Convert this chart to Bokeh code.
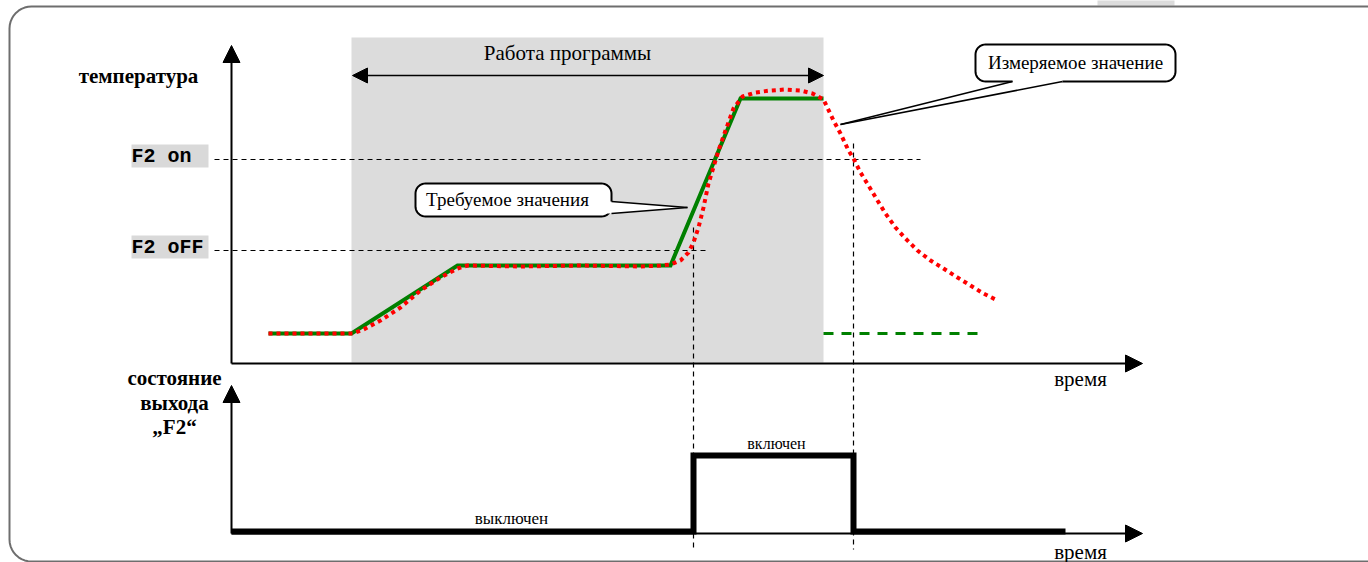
from bokeh.plotting import figure
from bokeh.models import Range1d, Arrow, NormalHead, Label
from bokeh.embed import file_html
from bokeh.resources import INLINE
import math

# ---------------- data (time units / temperature units) ----------------
# setpoint ("Требуемое значения") during the program
t_set = [3.7, 12.0, 22.6, 43.9, 50.9, 59.2]
T_set = [14.5, 14.5, 48.5, 48.5, 132.0, 132.0]
# setpoint after program end (dashed)
t_set_after = [59.2, 75.2]
T_set_after = [14.5, 14.5]
# measured value ("Измеряемое значение")
t_meas = [3.7, 12.1, 13.2, 14.9, 16.9, 18.9, 20.9, 22.6, 23.6, 28.9, 34.9, 40.9,
          42.9, 43.9, 44.9, 45.7, 46.2, 46.7, 47.2, 47.7, 48.1, 48.7, 49.4, 50.2,
          51.1, 52.4, 53.9, 55.4, 56.9, 58.1, 59.2, 60.2, 60.9, 61.7, 62.2, 62.9,
          63.7, 64.6, 65.4, 66.4, 67.4, 68.6, 69.9, 71.2, 72.6, 73.9, 75.2, 76.6]
T_meas = [14.5, 14.5, 16.5, 21.0, 27.5, 36.0, 42.5, 47.0, 48.5, 48.0, 48.5, 48.0,
          48.5, 49.0, 51.0, 55.0, 60.0, 67.5, 77.5, 89.5, 96.0, 106.0, 116.0, 127.0,
          133.0, 135.0, 136.0, 136.5, 136.0, 134.5, 131.5, 121.0, 114.5, 106.0, 102.0, 95.0,
          88.5, 81.0, 74.5, 67.5, 62.0, 56.0, 51.0, 47.0, 42.5, 38.5, 34.5, 31.0]
# thresholds
F2_ON = 101.5
F2_OFF = 56.0
threshold_labels = ["F2 on ", "F2 oFF"]
# program run interval
t_prog = [12.0, 59.2]
T_prog_top = 162.5
# output state F2
t_state = [0.0, 46.2, 46.2, 62.2, 62.2, 83.4]
s_state = [0, 0, 1, 1, 0, 0]
t_switch = [46.2, 62.2]

# ---------------- layout helpers (pixel -> data) ----------------
W, H = 1368, 562

def tx(px):
    return (px - 231) / 10.0

def ty(py):
    return (362 - py) / 2.0

def sy(py):
    return (531 - py) / 76.0

def rrect(x0, y0, x1, y1, r, n=10):
    xs, ys = [], []
    corners = [(x1 - r, y0 + r, -90, 0), (x1 - r, y1 - r, 0, 90),
               (x0 + r, y1 - r, 90, 180), (x0 + r, y0 + r, 180, 270)]
    for cx, cy, a0, a1 in corners:
        for i in range(n + 1):
            a = math.radians(a0 + (a1 - a0) * i / n)
            xs.append(tx(cx + r * math.cos(a)))
            ys.append(ty(cy + r * math.sin(a)))
    return xs, ys

SERIF = "'Liberation Serif', 'Times New Roman', serif"
MONO = "'Liberation Mono', 'Courier New', monospace"

p = figure(width=W, height=H,
           x_range=Range1d(tx(0), tx(W)), y_range=Range1d(ty(H), ty(0)),
           output_backend="svg", toolbar_location=None,
           x_axis_type=None, y_axis_type=None, min_border=0)
p.extra_y_ranges = {"state": Range1d(sy(H), sy(0))}
p.outline_line_color = None
p.background_fill_color = "white"
p.border_fill_color = "white"

# program band
p.quad(left=[t_prog[0]], right=[t_prog[1]], bottom=[0], top=[T_prog_top],
       fill_color="#dcdcdc", line_color=None)

# page fragment at top edge
p.quad(left=[tx(1097)], right=[tx(1174)], bottom=[ty(5)], top=[ty(-2)],
       fill_color="#dcdcdc", line_color=None)

# outer rounded frame
fx, fy = rrect(9, 6, 1392, 561, 22)
p.patch(fx + [fx[0]], fy + [fy[0]], fill_color=None, line_color="#6e6e6e", line_width=2)

# threshold label boxes
p.quad(left=[tx(131), tx(131)], right=[tx(208), tx(208)],
       bottom=[ty(167), ty(258)], top=[ty(144), ty(235)],
       fill_color="#d9d9d9", line_color=None)

# threshold dashed lines
p.line([tx(214), tx(920)], [F2_ON, F2_ON], line_color="black", line_width=1.2, line_dash="5 4")
p.line([tx(214), tx(705)], [F2_OFF, F2_OFF], line_color="black", line_width=1.2, line_dash="5 4")
# switching verticals
p.line([t_switch[0], t_switch[0]], [F2_OFF + 11.5, ty(549)], line_color="black", line_width=1.2, line_dash="5 4")
p.line([t_switch[1], t_switch[1]], [F2_ON + 8, ty(549)], line_color="black", line_width=1.2, line_dash="5 4")

# setpoint
p.line(t_set, T_set, line_color="#008000", line_width=4, line_join="miter")
p.line(t_set_after, T_set_after, line_color="#008000", line_width=3, line_dash="10 8")
# measured
p.line(t_meas, T_meas, line_color="#ff0000", line_width=4, line_dash="4 4")

# output state
p.line(t_state, s_state, y_range_name="state", line_color="black", line_width=6,
       line_join="miter", line_cap="butt")

# callout: Требуемое значения
bx, by = rrect(415, 183, 611, 216, 10)
p.patch(bx, by, fill_color="white", line_color="black", line_width=2)
p.patch([tx(600), tx(612), tx(687), tx(612), tx(600)],
        [ty(201), ty(201), ty(207), ty(213), ty(213)], fill_color="white", line_color=None)
p.multi_line([[tx(611), tx(687)], [tx(611), tx(687)]], [[ty(201), ty(207)], [ty(213), ty(207)]],
             line_color="black", line_width=1.5)

# callout: Измеряемое значение
bx, by = rrect(975, 44, 1175, 81, 10)
p.patch(bx, by, fill_color="white", line_color="black", line_width=2)
p.patch([tx(1012), tx(1012), tx(840), tx(1062), tx(1062)],
        [ty(72), ty(82), ty(124), ty(82), ty(72)], fill_color="white", line_color=None)
p.multi_line([[tx(1012), tx(840)], [tx(1062), tx(840)]], [[ty(81), ty(124)], [ty(81), ty(124)]],
             line_color="black", line_width=1.5)

# axes arrows
def arrow(x0, y0, x1, y1, rng="default", size=17, lw=2, both=False):
    head = NormalHead(size=size, fill_color="black", line_color="black", line_width=1)
    kw = dict(end=head, x_start=x0, y_start=y0, x_end=x1, y_end=y1,
              line_color="black", line_width=lw)
    if both:
        kw["start"] = NormalHead(size=size, fill_color="black", line_color="black", line_width=1)
    else:
        kw["start"] = None
    if rng != "default":
        kw["y_range_name"] = rng
    p.add_layout(Arrow(**kw))

arrow(0, ty(363), 0, ty(45))
arrow(0, ty(363), tx(1142), ty(363))
arrow(0, sy(533), 0, sy(385), rng="state")
arrow(0, sy(533), tx(1142), sy(533), rng="state")
arrow(tx(352), ty(75), tx(823), ty(75), size=15, lw=1.5, both=True)

# labels
def label(x, y, text, size, font=SERIF, style="normal", align="center"):
    p.add_layout(Label(x=x, y=y, text=text, text_font=font, text_font_size=size,
                       text_font_style=style, text_align=align, text_baseline="middle",
                       text_color="black"))

label(tx(567), ty(52), "Работа программы", "21px")
label(tx(138), ty(75), "температура", "21px", style="bold")
label(tx(131), ty(156), threshold_labels[0], "20px", font=MONO, style="bold", align="left")
label(tx(131), ty(247), threshold_labels[1], "20px", font=MONO, style="bold", align="left")
label(tx(507), ty(199), "Требуемое значения", "19px")
label(tx(1075), ty(62), "Измеряемое значение", "19px")
label(tx(1080), ty(378), "время", "21px")
label(tx(1080), ty(551), "время", "21px")
label(tx(174), ty(377), "состояние", "21px", style="bold")
label(tx(174), ty(402), "выхода", "21px", style="bold")
label(tx(174), ty(426), "„F2“", "21px", style="bold")
label(tx(776), ty(443), "включен", "16px")
label(tx(511), ty(518), "выключен", "17px")

open("out.html", "w").write(file_html(p, INLINE))
